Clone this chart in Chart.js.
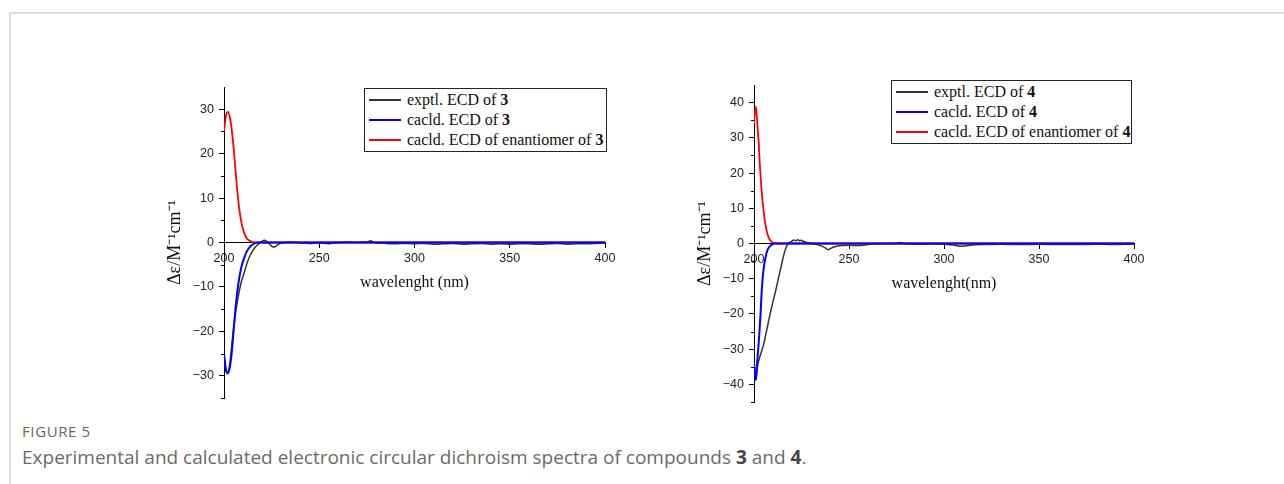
<!DOCTYPE html>
<html>
<head>
<meta charset="utf-8">
<script src="https://cdn.jsdelivr.net/npm/chart.js@4.4.1/dist/chart.umd.min.js"></script>
<style>
  html, body { margin: 0; padding: 0; background: #fff; }
  body { width: 1284px; height: 484px; position: relative; overflow: hidden; }
  .frame { position: absolute; left: 9px; top: 12px; width: 1300px; height: 500px;
           border-top: 2px solid #dcdcdc; border-left: 2px solid #dcdcdc; }
  canvas { position: absolute; }
  .legend { position: absolute; border: 1px solid #222; background: #fff;
            font-family: "Liberation Serif", "Times New Roman", serif; font-size: 16px; color: #111; }
  .legend div { position: absolute; left: 0; height: 20px; line-height: 20px; white-space: nowrap; }
  .legend span.ln { position: absolute; left: 4px; top: 9px; width: 32px; height: 2px; }
  .legend span.tx { position: absolute; left: 42px; top: 0; }
  .cap1 { position: absolute; left: 22px; top: 421px; font-family: "Open Sans", sans-serif;
          font-size: 15px; letter-spacing: 0.6px; color: #666; }
  .cap2 { position: absolute; left: 22px; top: 444px; font-family: "Open Sans", sans-serif;
          font-size: 19px; color: #6a6a6a; }
  .cap2 b { color: #444; }
</style>
</head>
<body>
<div class="frame"></div>

<canvas id="c3" width="540" height="350" style="left:100px;top:70px"></canvas>
<canvas id="c4" width="540" height="350" style="left:630px;top:70px"></canvas>

<div class="legend" style="left:364px;top:88px;width:241px;height:62px">
  <div style="top:1px"><span class="ln" style="background:#333"></span><span class="tx">exptl. ECD of <b>3</b></span></div>
  <div style="top:21px"><span class="ln" style="background:#0000ff"></span><span class="tx">cacld. ECD of <b>3</b></span></div>
  <div style="top:41px"><span class="ln" style="background:#ff0000"></span><span class="tx">cacld. ECD of enantiomer of <b>3</b></span></div>
</div>
<div class="legend" style="left:891px;top:80px;width:239px;height:62px">
  <div style="top:1px"><span class="ln" style="background:#333"></span><span class="tx">exptl. ECD of <b>4</b></span></div>
  <div style="top:21px"><span class="ln" style="background:#0000ff"></span><span class="tx">cacld. ECD of <b>4</b></span></div>
  <div style="top:41px"><span class="ln" style="background:#ff0000"></span><span class="tx">cacld. ECD of enantiomer of <b>4</b></span></div>
</div>

<div class="cap1">FIGURE 5</div>
<div class="cap2">Experimental and calculated electronic circular dichroism spectra of compounds <b>3</b> and <b>4</b>.</div>

<script>
// compound 3
const wl3Exp = [200, 201, 202, 203, 204, 205, 206, 207, 208, 209, 210, 211, 212, 213, 214, 215, 216, 217, 218, 219, 220,
  221, 222, 223, 224, 225, 226, 227, 228, 229, 230, 232, 235, 240, 245, 250, 255, 260, 265, 270, 275, 277, 279, 285,
  290, 295, 300, 305, 310, 315, 320, 325, 330, 335, 340, 345, 350, 355, 360, 365, 370, 375, 380, 385, 390, 395, 400];
const ecd3Exp = [-25.5, -28.8, -29.5, -27.5, -23.5, -19.5, -16, -13.3, -11, -9, -7.6, -6.2, -4.8, -3.6, -2.7, -1.9, -1.3, -0.8, -0.4, 0, 0.3,
  0.5, 0.4, 0, -0.4, -0.8, -1.0, -0.9, -0.6, -0.3, -0.1, 0, 0.1, -0.1, -0.2, -0.1, -0.3, 0, 0.1, 0, 0.1, 0.4, 0, -0.2,
  -0.3, -0.2, -0.3, -0.2, -0.4, -0.3, -0.2, -0.4, -0.3, -0.2, -0.4, -0.3, -0.4, -0.3, -0.3, -0.4, -0.3, -0.2, -0.4, -0.3, -0.3, -0.2, -0.1];
const wl3Calc = [200, 201, 202, 203, 204, 205, 206, 207, 208, 209, 210, 211, 212, 213, 214, 215, 216, 218, 220, 250, 300, 350, 400];
const ecd3Calc = [-25, -28.6, -29.4, -28.2, -25, -20, -15, -11, -8, -5.8, -4.2, -3, -2, -1.3, -0.8, -0.45, -0.2, 0, 0, 0, 0, 0, 0];
const ecd3Enant = [25, 28.5, 29.4, 28.3, 25.6, 21.5, 16.5, 11.5, 7.6, 4.8, 3.0, 1.7, 0.9, 0.5, 0.25, 0.1, 0.05, 0, 0, 0, 0, 0, 0];

// compound 4
const wl4Exp = [200.5, 201, 201.5, 202, 203, 204, 205, 206, 207, 208, 209, 210, 211, 212, 213, 214, 215, 216, 217, 218, 219,
  220, 221, 222, 223, 224, 225, 226, 227, 228, 229, 230, 232, 234, 236, 238, 239, 240, 242, 244, 246, 250, 255, 260,
  265, 270, 275, 277, 279, 285, 290, 295, 300, 305, 308, 311, 315, 320, 330, 340, 350, 360, 370, 380, 390, 400];
const ecd4Exp = [-36, -38.7, -36.5, -34.3, -32.3, -30.6, -28.8, -26.3, -23.8, -21.2, -18.8, -16.5, -14.3, -12, -9.5, -7.2, -4.8, -2.6, -1.0, 0, 0.4,
  0.7, 1.0, 0.8, 1.1, 0.8, 0.9, 0.6, 0.4, 0.3, 0.1, 0, -0.2, -0.4, -0.8, -1.4, -1.8, -1.5, -1.0, -0.7, -0.6, -0.5, -0.6, -0.3,
  -0.1, 0, 0, 0.3, 0, -0.2, -0.2, -0.1, -0.2, -0.4, -0.8, -0.7, -0.4, -0.3, -0.2, -0.3, -0.2, -0.3, -0.3, -0.2, -0.3, -0.1];
const wl4Calc = [200, 200.5, 201, 201.5, 202, 202.5, 203, 203.5, 204, 204.5, 205, 205.5, 206, 207, 208, 209, 210, 211, 212, 213,
  215, 220, 250, 300, 350, 400];
const ecd4Calc = [-34, -37.5, -38.7, -35, -31.5, -28, -24, -19.5, -14, -10.3, -7.5, -5.6, -4.2, -2, -1.0, -0.5, -0.2, 0, 0, 0,
  0, 0, 0, 0, 0, 0];
const ecd4Enant = [34, 37.5, 38.8, 36, 32, 28.5, 23, 19, 15.1, 12, 9.6, 7.3, 5.5, 2.8, 1.4, 0.6, 0.25, 0.1, 0, 0,
  0, 0, 0, 0, 0, 0];

const xTicks = [200, 250, 300, 350, 400];
const yTicks3 = [-30, -20, -10, 0, 10, 20, 30];
const yMinor3 = [-35, -25, -15, -5, 5, 15, 25];
const yTicks4 = [-40, -30, -20, -10, 0, 10, 20, 30, 40];
const yMinor4 = [-45, -35, -25, -15, -5, 5, 15, 25, 35];

const pts = (xs, ys) => xs.map((x, i) => ({ x: x, y: ys[i] }));

// short ticks between the labelled ones on the y axis
const minorTicks = {
  id: 'minorTicks',
  afterDraw(chart, args, opts) {
    const sc = chart.scales.y, ctx = chart.ctx;
    ctx.save();
    ctx.strokeStyle = '#000';
    ctx.lineWidth = 1;
    opts.values.forEach(v => {
      const py = Math.round(sc.getPixelForValue(v)) + 0.5;
      ctx.beginPath();
      ctx.moveTo(sc.right, py);
      ctx.lineTo(sc.right - 3, py);
      ctx.stroke();
    });
    ctx.restore();
  }
};

const tickFont = { family: '"Liberation Sans", Arial, sans-serif', size: 12.5 };
const titleFont = { family: '"Liberation Serif", "Times New Roman", serif', size: 16 };

function makeChart(id, wlExp, exp, wlCalc, calc, enant, yMin, yMax, yTicks, yMinor, xTitle, pad) {
  new Chart(document.getElementById(id), {
    type: 'line',
    data: {
      datasets: [
        { data: pts(wlCalc, calc), borderColor: '#0000ff', borderWidth: 2, order: 0, cubicInterpolationMode: 'monotone' },
        { data: pts(wlExp, exp), borderColor: '#333', borderWidth: 1.5, order: 1, tension: 0.2 },
        { data: pts(wlCalc, enant), borderColor: '#ff0000', borderWidth: 1.8, order: 2, cubicInterpolationMode: 'monotone' }
      ]
    },
    options: {
      responsive: false,
      animation: false,
      events: [],
      elements: { point: { radius: 0 } },
      layout: { padding: pad },
      plugins: {
        legend: { display: false },
        tooltip: { enabled: false },
        minorTicks: { values: yMinor }
      },
      scales: {
        x: {
          type: 'linear',
          position: { y: 0 },
          min: 200, max: 400,
          afterBuildTicks: s => { s.ticks = xTicks.map(v => ({ value: v })); },
          grid: { drawOnChartArea: false, tickLength: 5, color: '#000' },
          border: { color: '#000', width: 1 },
          ticks: { font: tickFont, color: '#222', padding: 4, maxRotation: 0 },
          title: { display: true, text: xTitle, font: titleFont, color: '#111', padding: { top: 3 } }
        },
        y: {
          type: 'linear',
          min: yMin, max: yMax,
          afterBuildTicks: s => { s.ticks = yTicks.map(v => ({ value: v })); },
          afterFit: s => { s.width = 60; },
          grid: { drawOnChartArea: false, tickLength: 5, color: '#000' },
          border: { color: '#000', width: 1 },
          ticks: { font: tickFont, color: '#222', padding: 5, callback: v => String(v).replace('-', '\u2212') },
          title: { display: true, text: 'Δε/M⁻¹cm⁻¹', font: { family: titleFont.family, size: 18 }, color: '#111', padding: 0 }
        }
      }
    },
    plugins: [minorTicks]
  });
}

makeChart('c3', wl3Exp, ecd3Exp, wl3Calc, ecd3Calc, ecd3Enant, -35, 35, yTicks3, yMinor3,
  'wavelenght (nm)', { left: 64, right: 35, top: 17, bottom: 22 });
makeChart('c4', wl4Exp, ecd4Exp, wl4Calc, ecd4Calc, ecd4Enant, -45, 45, yTicks4, yMinor4,
  'wavelenght(nm)', { left: 64, right: 36, top: 15, bottom: 18 });
</script>
</body>
</html>
